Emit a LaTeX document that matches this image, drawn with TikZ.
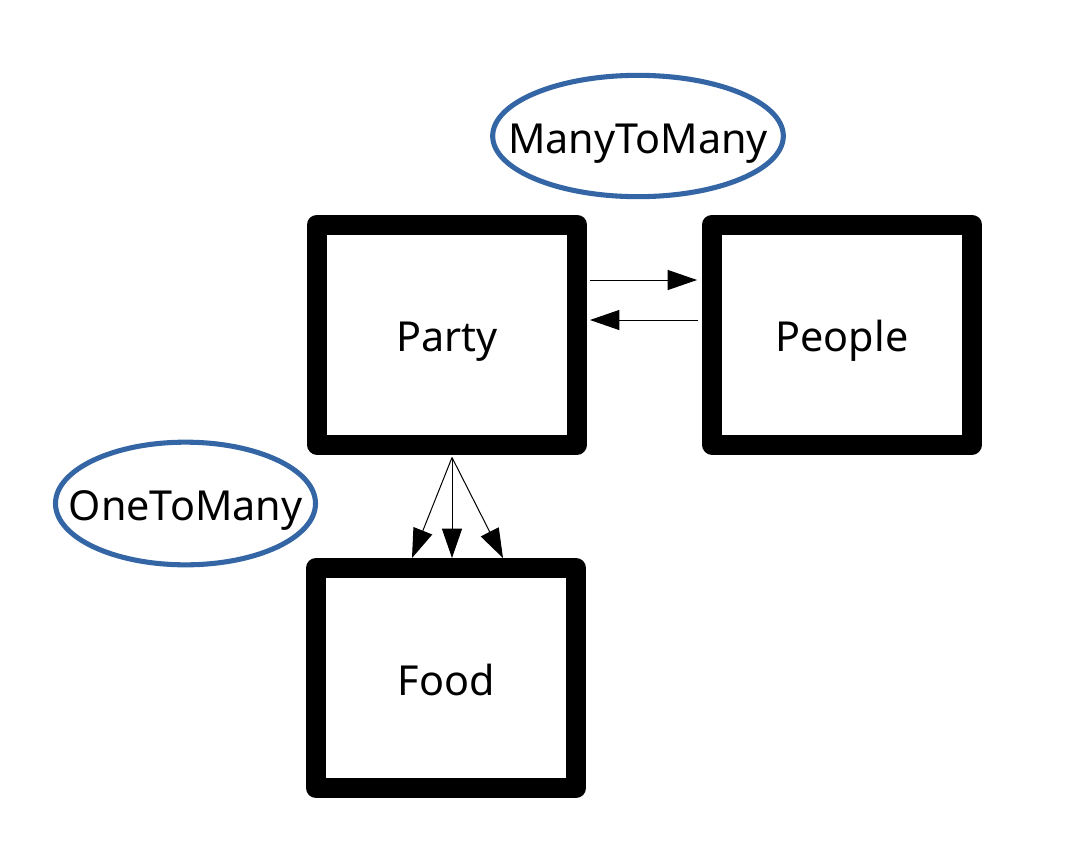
\documentclass[tikz,border=0pt]{standalone}
\usepackage{fontspec}
\setmainfont{Noto Sans}
\usetikzlibrary{arrows.meta,calc}
\definecolor{relblue}{RGB}{52,101,164}
\begin{document}
\begin{tikzpicture}[x=0.75pt,y=-0.75pt,
  bigfont/.style={font=\fontsize{31pt}{36pt}\selectfont,text height=25.5pt,text depth=0pt},
  entity/.style={draw=black,line width=15pt,line join=round,rectangle,
    minimum width=195pt,minimum height=165pt,inner sep=0pt,bigfont},
  reltext/.style={inner sep=0pt,bigfont},
  relline/.style={draw=relblue,line width=3.8pt},
  arr/.style={line width=0.75pt,-{Triangle[length=22pt,width=15pt]}}]
\useasboundingbox (0,0) rectangle (1071,857);
\node[entity] (party) at (447,334.5) {Party};
\node[entity] (people) at (842,334.5) {People};
\node[entity] (food) at (446,678) {Food};
\node[reltext] (m2m) at (638,136) {ManyToMany};
\draw[relline] (m2m.center) ellipse [x radius=109pt, y radius=45.5pt];
\node[reltext] (o2m) at (185.5,503.5) {OneToMany};
\draw[relline] (o2m.center) ellipse [x radius=97.5pt, y radius=46pt];
\draw[arr] ($(party.east)+(3,-54.5)$) -- ($(people.west)+(-5,-54.5)$);
\draw[arr] ($(people.west)+(-4,-14.5)$) -- ($(party.east)+(3,-14.5)$);
\coordinate (src) at ($(party.south)+(5,3)$);
\draw[arr] (src) -- ($(food.north)+(-34,0)$);
\draw[arr] (src) -- ($(food.north)+(6,0)$);
\draw[arr] (src) -- ($(food.north)+(57,0)$);
\end{tikzpicture}
\end{document}
